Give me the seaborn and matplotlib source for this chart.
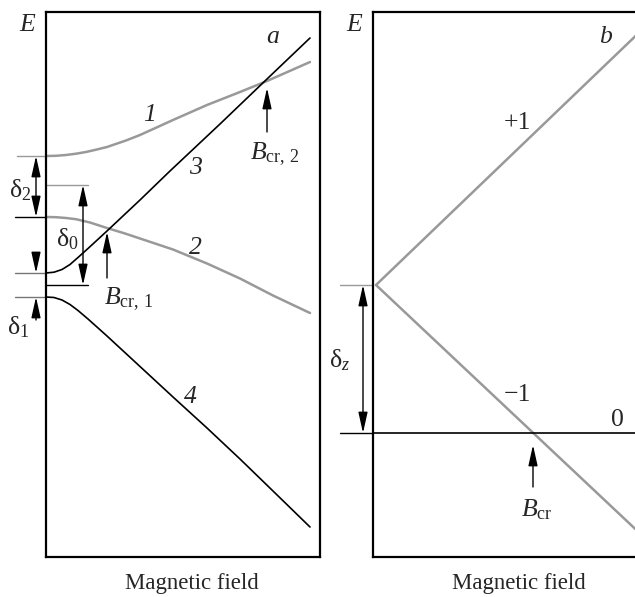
import matplotlib
matplotlib.use("Agg")
import matplotlib.pyplot as plt
import seaborn as sns

# === values (field B / energy E, arbitrary units) ===
# panel a: four levels
b1 = [0, 10, 20, 30, 40, 50, 61, 80, 94, 127, 161, 194, 221, 264]
e1 = [401, 401.2, 402, 403.3, 405, 407.3, 410, 416.5, 422, 437, 452, 465, 476, 495]
b2 = [0, 10, 20, 30, 44, 61, 79, 94, 127, 161, 194, 227, 264]
e2 = [340, 339.8, 339, 337.8, 334.5, 329, 323.5, 318.5, 307.5, 293.5, 278.5, 261.5, 244]
b3 = [0, 8, 16, 24, 32, 42, 61, 94, 124, 174, 221, 264]
e3 = [284, 284.8, 287.5, 292.5, 299.5, 308.5, 326, 357, 386, 433, 478, 519]
b4 = [0, 8, 16, 24, 32, 42, 61, 94, 127, 161, 194, 227, 264]
e4 = [260, 259.5, 257, 252.5, 246.5, 238, 221, 190.5, 160, 129, 98, 66, 30]
level_1, level_2, level_3, level_4 = 401, 340, 284, 260
delta0_top, delta0_bottom = 372, 272
b_cr1, b_cr2 = 61, 221

# panel b: triplet lines +1, -1 and singlet 0
bp = [3, 274]
ep = [272, 532]
bm = [3, 274]
em = [272, 17]
b0 = [0, 274]
e0 = [124, 124]
b_cr = 160

GRAY = "#999999"
W, H = 635, 597

sns.set_style("white")
plt.rcParams["font.family"] = ["Liberation Serif", "DejaVu Serif"]
plt.rcParams["mathtext.fontset"] = "custom"
plt.rcParams["mathtext.rm"] = "Liberation Serif"
plt.rcParams["mathtext.it"] = "Liberation Serif:italic"
plt.rcParams["mathtext.bf"] = "Liberation Serif:bold"
FS = 18.5

fig = plt.figure(figsize=(W / 100, H / 100), dpi=100)
ax1 = fig.add_axes([46 / W, 40 / H, 274 / W, 545 / H])
ax2 = fig.add_axes([373 / W, 40 / H, 274 / W, 545 / H])


def arrow(ax, x, y0, y1, style="-|>"):
    ax.annotate("", xy=(x, y1), xytext=(x, y0), annotation_clip=False,
                arrowprops=dict(arrowstyle=style + ",head_length=0.9,head_width=0.2",
                                color="black", lw=1.0, shrinkA=0, shrinkB=0,
                                mutation_scale=14))


def hline(ax, y, x0, x1, color):
    ax.plot([x0, x1], [y, y], color=color, lw=1.0, clip_on=False)


# --- panel a ---
sns.lineplot(x=b1, y=e1, ax=ax1, color=GRAY, lw=1.8, sort=False, estimator=None)
sns.lineplot(x=b2, y=e2, ax=ax1, color=GRAY, lw=1.8, sort=False, estimator=None)
sns.lineplot(x=b3, y=e3, ax=ax1, color="black", lw=1.2, sort=False, estimator=None)
sns.lineplot(x=b4, y=e4, ax=ax1, color="black", lw=1.2, sort=False, estimator=None)

hline(ax1, level_1, -29, 0, GRAY)
hline(ax1, level_2, -31, 0, "black")
hline(ax1, level_3, -31, 0, "#777777")
hline(ax1, level_4, -31, 0, "#777777")
hline(ax1, delta0_top, 0, 42, GRAY)
hline(ax1, delta0_bottom, 0, 42, "black")

arrow(ax1, -10, level_1, level_2, "<|-|>")
arrow(ax1, 37, delta0_top, delta0_bottom, "<|-|>")
arrow(ax1, -10, level_3 + 15, level_3)
arrow(ax1, -10, level_4 - 23, level_4)
arrow(ax1, b_cr1, 279, 325)
arrow(ax1, b_cr2, 425, 469)

txt = dict(fontsize=FS, ha="center", va="center", clip_on=False)
ax1.text(-19, 532, "E", style="italic", **txt)
ax1.text(227, 520, "a", style="italic", **txt)
ax1.text(104, 442, "1", style="italic", **txt)
ax1.text(149, 389, "3", style="italic", **txt)
ax1.text(149, 309, "2", style="italic", **txt)
ax1.text(144, 160, "4", style="italic", **txt)
ax1.text(-26, 367, r"$\mathrm{δ}_2$", **txt)
ax1.text(21, 318, r"$\mathrm{δ}_0$", **txt)
ax1.text(-28, 230, r"$\mathrm{δ}_1$", **txt)
ax1.text(82, 258, r"$B_{\mathrm{cr,\,1}}$", **txt)
ax1.text(229, 403, r"$B_{\mathrm{cr,\,2}}$", **txt)

# --- panel b ---
sns.lineplot(x=bp, y=ep, ax=ax2, color=GRAY, lw=1.8, sort=False, estimator=None)
sns.lineplot(x=bm, y=em, ax=ax2, color=GRAY, lw=1.8, sort=False, estimator=None)
sns.lineplot(x=b0, y=e0, ax=ax2, color="black", lw=1.2, sort=False, estimator=None)

hline(ax2, ep[0], -33, 0, GRAY)
hline(ax2, e0[0], -33, 0, "black")
arrow(ax2, -10, ep[0], e0[0], "<|-|>")
arrow(ax2, b_cr, 70, 112)

ax2.text(-19, 532, "E", style="italic", **txt)
ax2.text(232, 520, "b", style="italic", **txt)
ax2.text(144, 434, "+1", **txt)
ax2.text(144, 162, "\u22121", **txt)
ax2.text(244, 137, "0", **txt)
ax2.text(-33, 197, r"$\mathrm{δ}_z$", **txt)
ax2.text(164, 47, r"$B_{\mathrm{cr}}$", **txt)

for ax in (ax1, ax2):
    ax.set_xlim(0, 274)
    ax.set_ylim(0, 545)
    ax.set_xticks([])
    ax.set_yticks([])
    ax.set_xlabel("")
    ax.set_ylabel("")
    for s in ax.spines.values():
        s.set_color("black")
        s.set_linewidth(1.6)
        s.set_visible(True)
    ax.text(146, -26, "Magnetic field", fontsize=16.5, ha="center", va="center",
            clip_on=False)

fig.savefig("out.png", dpi=100)
